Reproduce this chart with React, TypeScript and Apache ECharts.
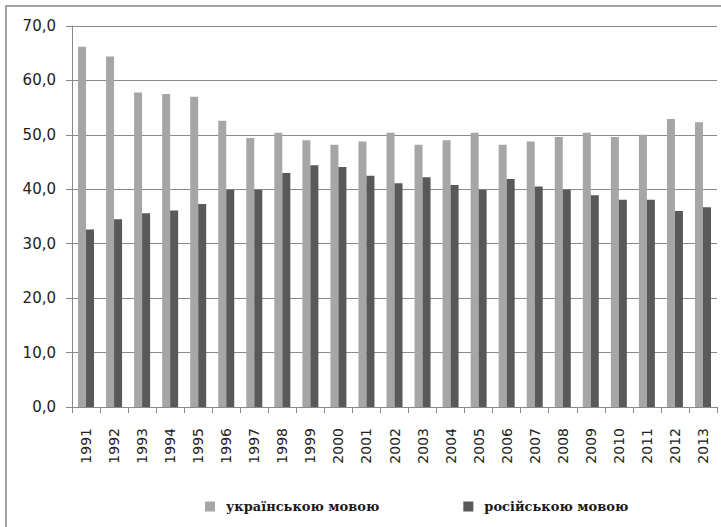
import React, { useEffect, useRef } from "react";
import * as echarts from "echarts";

const years = ["1991","1992","1993","1994","1995","1996","1997","1998","1999","2000","2001","2002","2003","2004","2005","2006","2007","2008","2009","2010","2011","2012","2013"];
const ukrainian = [66.2,64.4,57.8,57.5,57.0,52.6,49.4,50.4,49.0,48.2,48.8,50.4,48.2,49.0,50.4,48.2,48.8,49.6,50.4,49.6,50.0,52.9,52.3];
const russian = [32.6,34.5,35.6,36.1,37.3,39.9,39.9,43.0,44.4,44.1,42.5,41.1,42.2,40.8,39.9,41.9,40.5,39.9,38.9,38.1,38.1,36.0,36.7];
const seriesNames = ["українською мовою", "російською мовою"];

export default function App() {
  const ref = useRef<HTMLDivElement>(null);
  useEffect(() => {
    if (!ref.current) return;
    const chart = echarts.init(ref.current, null, { renderer: "svg" });
    const axisColor = "#8a8a8a";
    chart.setOption({
      animation: false,
      backgroundColor: "#ffffff",
      graphic: [
        {
          type: "rect",
          shape: { x: 6, y: 6, width: 760, height: 560 },
          style: { fill: "none", stroke: "#a3a3a3", lineWidth: 2 },
          silent: true,
        },
      ],
      grid: { left: 72, right: 4, top: 26, bottom: 120 },
      legend: {
        data: seriesNames,
        left: 205,
        top: 500,
        padding: 0,
        itemWidth: 10,
        itemHeight: 10,
        itemGap: 84,
        icon: "rect",
        textStyle: {
          fontFamily: "DejaVu Serif",
          fontWeight: "bold",
          fontSize: 13,
          color: "#1a1a1a",
          padding: [0, 0, 0, 6],
        },
      },
      xAxis: {
        type: "category",
        data: years,
        boundaryGap: true,
        axisLine: { lineStyle: { color: axisColor, width: 1 } },
        axisTick: { show: true, alignWithLabel: false, length: 6, lineStyle: { color: axisColor } },
        axisLabel: {
          interval: 0,
          rotate: 90,
          margin: 21,
          fontFamily: "DejaVu Sans",
          fontSize: 14,
          color: "#222222",
        },
      },
      yAxis: {
        type: "value",
        min: 0,
        max: 70,
        interval: 10,
        axisLine: { show: true, lineStyle: { color: axisColor, width: 1 } },
        axisTick: { show: true, length: 6, lineStyle: { color: axisColor } },
        splitLine: { show: true, lineStyle: { color: axisColor, width: 1 } },
        axisLabel: {
          margin: 16,
          fontFamily: "DejaVu Sans",
          fontSize: 15,
          color: "#222222",
          formatter: (v: number) => v.toFixed(1).replace(".", ","),
        },
      },
      series: [
        {
          name: seriesNames[0],
          type: "bar",
          data: ukrainian,
          barWidth: 8,
          barGap: "0%",
          itemStyle: { color: "#a6a6a6" },
        },
        {
          name: seriesNames[1],
          type: "bar",
          data: russian,
          barWidth: 8,
          barGap: "0%",
          itemStyle: { color: "#595959" },
        },
      ],
    });
    return () => chart.dispose();
  }, []);
  return (
    <div
      ref={ref}
      style={{ position: "fixed", left: 0, top: 0, width: 721, height: 527, background: "#fff" }}
    />
  );
}
